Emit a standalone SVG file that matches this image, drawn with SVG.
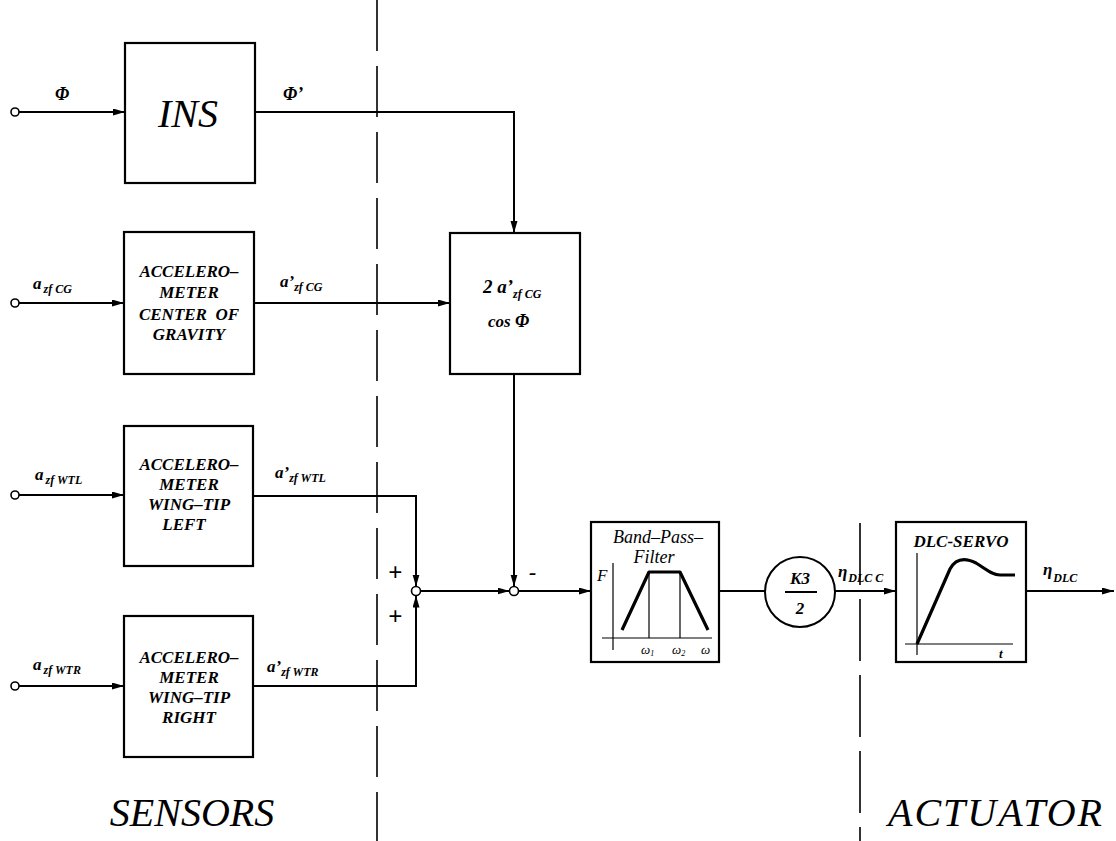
<svg xmlns="http://www.w3.org/2000/svg" width="1116" height="841" viewBox="0 0 1116 841">
<defs>
<marker id="arr" markerUnits="userSpaceOnUse" markerWidth="14" markerHeight="8" refX="12" refY="3.5" orient="auto">
<path d="M0,0 L12,3.5 L0,7 z" fill="#000"/>
</marker>
</defs>
<style>
.box{fill:#fff;stroke:#000;stroke-width:2.2}
.ln{fill:none;stroke:#000;stroke-width:2}
.thin{fill:none;stroke:#000;stroke-width:1.2}
.thick{fill:none;stroke:#000;stroke-width:3.2;stroke-linejoin:round}
.dash{fill:none;stroke:#000;stroke-width:1.6}
.term{fill:#fff;stroke:#000;stroke-width:1.6}
.bi{font-family:"Liberation Serif",serif;font-style:italic;font-weight:bold;fill:#000}
.it{font-family:"Liberation Serif",serif;font-style:italic;fill:#000}
.bx{font-size:17px;text-anchor:middle}
.sub{font-size:12px}
</style>
<rect width="1116" height="841" fill="#fff"/>

<g id="separators">
<line class="dash" x1="377" y1="0" x2="377" y2="841" stroke-dasharray="51 15"/>
<line class="dash" x1="860" y1="523" x2="860" y2="841" stroke-dasharray="62 14"/>
</g>

<g id="connectors">
<circle class="term" cx="15" cy="112" r="4"/>
<line class="ln" x1="19" y1="112" x2="125" y2="112" marker-end="url(#arr)"/>
<path class="ln" d="M255,112 H514 V233" marker-end="url(#arr)"/>
<circle class="term" cx="15" cy="303" r="4"/>
<line class="ln" x1="19" y1="303" x2="124" y2="303" marker-end="url(#arr)"/>
<line class="ln" x1="254" y1="303" x2="450" y2="303" marker-end="url(#arr)"/>
<circle class="term" cx="15" cy="495" r="4"/>
<line class="ln" x1="19" y1="495" x2="124" y2="495" marker-end="url(#arr)"/>
<path class="ln" d="M253,496 H416 V586.5" marker-end="url(#arr)"/>
<circle class="term" cx="15" cy="686" r="4"/>
<line class="ln" x1="19" y1="686" x2="124" y2="686" marker-end="url(#arr)"/>
<path class="ln" d="M253,686 H416 V595.5" marker-end="url(#arr)"/>
<line class="ln" x1="420.5" y1="591" x2="509.5" y2="591" marker-end="url(#arr)"/>
<line class="ln" x1="514" y1="374" x2="514" y2="586.5" marker-end="url(#arr)"/>
<line class="ln" x1="518.5" y1="591" x2="591" y2="591" marker-end="url(#arr)"/>
<line class="ln" x1="719" y1="591" x2="765" y2="591"/>
<line class="ln" x1="835" y1="591" x2="896" y2="591" marker-end="url(#arr)"/>
<line class="ln" x1="1026" y1="591" x2="1114" y2="591" marker-end="url(#arr)"/>
</g>

<g id="labels">
<text class="bi" x="55" y="100" font-size="18">Φ</text>
<text class="bi" x="283" y="100" font-size="18">Φ’</text>
<text class="bi" x="33" y="289" font-size="17">a<tspan class="sub" dy="4" dx="2">zf CG</tspan></text>
<text class="bi" x="280" y="287" font-size="17">a’<tspan class="sub" dy="4">zf CG</tspan></text>
<text class="bi" x="35" y="480" font-size="17">a<tspan class="sub" dy="4" dx="2">zf WTL</tspan></text>
<text class="bi" x="275" y="478" font-size="17">a’<tspan class="sub" dy="4">zf WTL</tspan></text>
<text class="bi" x="33" y="670" font-size="17">a<tspan class="sub" dy="4" dx="2">zf WTR</tspan></text>
<text class="bi" x="267" y="672" font-size="17">a’<tspan class="sub" dy="4">zf WTR</tspan></text>
<text class="bi" x="838" y="577" font-size="17">η<tspan class="sub" dy="5" dx="1">DLC C</tspan></text>
<text class="bi" x="1043" y="575" font-size="17">η<tspan class="sub" dy="7" dx="1">DLC</tspan></text>
<text class="bi" x="388" y="581" font-size="25">+</text>
<text class="bi" x="388" y="625" font-size="25">+</text>
<text class="bi" x="529" y="579" font-size="22">-</text>
<text class="it" x="192" y="826" font-size="40" text-anchor="middle">SENSORS</text>
<text class="it" x="996" y="826" font-size="40" text-anchor="middle" letter-spacing="2">ACTUATOR</text>
</g>

<g id="ins">
<rect class="box" x="125" y="43" width="130" height="140"/>
<text class="it" x="188" y="127" font-size="40" text-anchor="middle">INS</text>
</g>

<g id="acc-cg">
<rect class="box" x="124" y="232" width="130" height="142"/>
<text class="bi bx" x="189" y="277">ACCELERO–</text>
<text class="bi bx" x="189" y="298">METER</text>
<text class="bi bx" x="189" y="320" xml:space="preserve">CENTER  OF</text>
<text class="bi bx" x="189" y="340">GRAVITY</text>
</g>

<g id="acc-wtl">
<rect class="box" x="124" y="426" width="129" height="140"/>
<text class="bi bx" x="189" y="470">ACCELERO–</text>
<text class="bi bx" x="189" y="490">METER</text>
<text class="bi bx" x="189" y="510">WING–TIP</text>
<text class="bi bx" x="184" y="530">LEFT</text>
</g>

<g id="acc-wtr">
<rect class="box" x="124" y="616" width="129" height="141"/>
<text class="bi bx" x="189" y="663">ACCELERO–</text>
<text class="bi bx" x="189" y="683">METER</text>
<text class="bi bx" x="189" y="703">WING–TIP</text>
<text class="bi bx" x="189" y="723">RIGHT</text>
</g>

<g id="cos-block">
<rect class="box" x="450" y="233" width="130" height="141"/>
<text class="bi" x="483" y="293" font-size="19">2 a’<tspan class="sub" dy="5">zf CG</tspan></text>
<text class="bi" x="488" y="327" font-size="17">cos  <tspan font-size="18">Φ</tspan></text>
</g>

<g id="sum1">
<circle class="term" cx="416" cy="591" r="4.5"/>
</g>
<g id="sum2">
<circle class="term" cx="514" cy="591" r="4.5"/>
</g>

<g id="band-pass-filter">
<rect class="box" x="591" y="522" width="128" height="140"/>
<text class="it" x="658" y="543" font-size="18" text-anchor="middle">Band–Pass–</text>
<text class="it" x="654" y="563" font-size="18" text-anchor="middle">Filter</text>
<text class="it" x="597" y="581" font-size="17">F</text>
<line class="thin" x1="613" y1="563" x2="613" y2="650"/>
<line class="thin" x1="602" y1="638" x2="712" y2="638"/>
<line class="thin" x1="649" y1="572" x2="649" y2="638"/>
<line class="thin" x1="680" y1="572" x2="680" y2="638"/>
<polyline class="thick" points="622,630 649,572 680,572 708,630"/>
<text class="it" x="641" y="654" font-size="13">ω<tspan font-size="8" dy="2">1</tspan></text>
<text class="it" x="672" y="654" font-size="13">ω<tspan font-size="8" dy="2">2</tspan></text>
<text class="it" x="701" y="654" font-size="13">ω</text>
</g>

<g id="gain-k3">
<circle fill="#fff" stroke="#000" stroke-width="2" cx="800" cy="592" r="35"/>
<text class="bi" x="800" y="584" font-size="17" text-anchor="middle">K3</text>
<line class="ln" x1="785" y1="592" x2="817" y2="592"/>
<text class="bi" x="800" y="614" font-size="17" text-anchor="middle">2</text>
</g>

<g id="dlc-servo">
<rect class="box" x="896" y="522" width="130" height="140"/>
<text class="bi" x="961" y="547" font-size="17" text-anchor="middle">DLC-SERVO</text>
<line class="thin" x1="917" y1="553" x2="917" y2="655"/>
<line class="thin" x1="905" y1="644" x2="1013" y2="644"/>
<path class="thick" d="M917,644 L950,569 C956,558 966,558 976,563 C986,569 992,575 1000,575 L1015,575"/>
<text class="bi" x="999" y="658" font-size="13">t</text>
</g>
</svg>
